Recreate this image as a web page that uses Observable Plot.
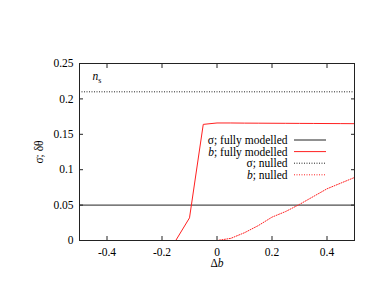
<!DOCTYPE html>
<html>
<head>
<meta charset="utf-8">
<script src="https://cdn.jsdelivr.net/npm/d3@7"></script>
<script src="https://cdn.jsdelivr.net/npm/@observablehq/plot@0.6"></script>
<style>
  html, body { margin: 0; padding: 0; background: white; }
</style>
</head>
<body>
<div id="chart"></div>
<script>
// ---- data ----
const deltaB = [-0.5, -0.45, -0.4, -0.35, -0.3, -0.25, -0.2, -0.15, -0.1, -0.05, 0,
                0.05, 0.1, 0.15, 0.2, 0.25, 0.3, 0.35, 0.4, 0.45, 0.5];
const bFully = [0, 0, 0, 0, 0, 0, 0, 0, 0.032, 0.164, 0.166,
                0.1660, 0.1658, 0.1657, 0.1656, 0.1655, 0.1654, 0.1653, 0.1652, 0.1651, 0.165];
const bNulled = [0, 0, 0, 0, 0, 0, 0, 0, 0, 0, 0,
                 0.003, 0.011, 0.021, 0.033, 0.041, 0.051, 0.062, 0.073, 0.081, 0.089];
const sigmaFully = 0.05;
const sigmaNulled = 0.21;
const xTicks = [-0.4, -0.2, 0, 0.2, 0.4];
const yTicks = [0, 0.05, 0.1, 0.15, 0.2, 0.25];
const legendLabels = ["σ; fully modelled", "b; fully modelled", "σ; nulled", "b; nulled"];

const W = 385, H = 298;
const mL = 79, mR = 31, mT = 63, mB = 58;
const BLACK = "#222";
const RED = "#ff2020";
const FONT = "'Liberation Serif', 'DejaVu Serif', serif";
const FSIZE = "11.5px";

const dataFull = deltaB.map((x, i) => ({x, y: bFully[i]}));
const dataNull = deltaB.map((x, i) => ({x, y: bNulled[i]}));

const legendStyles = [
  {stroke: BLACK, dash: null},
  {stroke: RED, dash: null},
  {stroke: BLACK, dash: "1,1.5"},
  {stroke: RED, dash: "1,1.5"}
];
const rowStep = 11.6, rowTop = 77;

const plot = Plot.plot({
  width: W, height: H,
  marginLeft: mL, marginRight: mR, marginTop: mT, marginBottom: mB,
  style: {background: "white", color: "black"},
  x: {domain: [-0.5, 0.5]},
  y: {domain: [0, 0.25]},
  marks: [
    Plot.ruleY([sigmaFully], {stroke: BLACK, strokeWidth: 1}),
    Plot.ruleY([sigmaNulled], {stroke: BLACK, strokeWidth: 1, strokeDasharray: "1,1.5"}),
    Plot.line(dataNull, {x: "x", y: "y", stroke: RED, strokeWidth: 1, strokeDasharray: "1,1.5"}),
    Plot.line(dataFull, {x: "x", y: "y", stroke: RED, strokeWidth: 1}),
    Plot.frame({stroke: BLACK}),
    Plot.axisX(xTicks, {anchor: "bottom", tickSize: -4, tickPadding: 11.5, tickFormat: d => String(d), label: null, stroke: BLACK}),
    Plot.axisX(xTicks, {anchor: "top", tickSize: -4, tickFormat: () => "", label: null, stroke: BLACK}),
    Plot.axisY(yTicks, {anchor: "left", tickSize: -4, tickPadding: 10, tickFormat: d => String(d), label: null, stroke: BLACK}),
    Plot.axisY(yTicks, {anchor: "right", tickSize: -4, tickFormat: () => "", label: null, stroke: BLACK}),
    Plot.text(["Δb"], {frameAnchor: "bottom", dy: 26, fill: "black"}),
    Plot.text(["σ; δθ"], {frameAnchor: "left", dx: -40, rotate: -90, textAnchor: "middle", lineAnchor: "middle", fill: "black"}),
    Plot.text(["ns"], {frameAnchor: "top-left", dx: 13, dy: 13, lineAnchor: "middle", fill: "black"}),
    ...legendLabels.map((t, i) =>
      Plot.text([t], {frameAnchor: "top-right", textAnchor: "end", lineAnchor: "middle", dx: -67, dy: rowTop + i * rowStep, fill: "black"}))
  ]
});

const svg = d3.select(plot);
svg.attr("font-family", FONT).attr("font-size", FSIZE)
   .style("font-family", FONT).style("font-size", FSIZE);
// italic / subscript formatting
svg.selectAll("text").each(function() {
  const el = d3.select(this);
  el.attr("font-family", FONT).style("font-family", FONT).style("font-size", FSIZE);
  const t = this.textContent;
  if (t === "Δb") {
    el.text(null);
    el.append("tspan").text("Δ");
    el.append("tspan").attr("font-style", "italic").text("b");
  } else if (t === "ns") {
    el.text(null);
    el.append("tspan").attr("font-style", "italic").text("n");
    el.append("tspan").style("font-size", "8px").attr("dy", "3").text("s");
  } else if (t === "b; fully modelled" || t === "b; nulled") {
    el.text(null);
    el.append("tspan").attr("font-style", "italic").text("b");
    el.append("tspan").text(t.slice(1));
  }
});
// legend sample lines
const lg = svg.append("g");
legendStyles.forEach((s, i) => {
  const y = mT + rowTop + i * rowStep;
  lg.append("line")
    .attr("x1", W - mR - 60).attr("x2", W - mR - 28)
    .attr("y1", y).attr("y2", y)
    .attr("stroke", s.stroke).attr("stroke-width", 1)
    .attr("stroke-dasharray", s.dash);
});

document.getElementById("chart").appendChild(plot);
</script>
</body>
</html>
